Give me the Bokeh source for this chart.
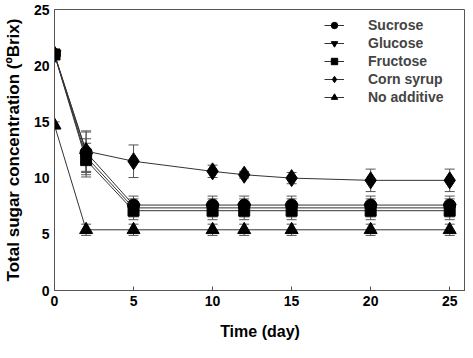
from bokeh.plotting import figure
from bokeh.models import ColumnDataSource, Whisker, Range1d, Legend, LegendItem, FixedTicker, TeeHead
from bokeh.embed import file_html
from bokeh.resources import INLINE

days = [0, 2, 5, 10, 12, 15, 20, 25]

sucrose = [21.0, 12.3, 7.6, 7.6, 7.6, 7.6, 7.6, 7.6]
sucrose_err = [0.3, 1.8, 0.8, 0.8, 0.8, 0.8, 0.8, 0.8]
glucose = [21.0, 11.9, 7.35, 7.35, 7.35, 7.35, 7.35, 7.35]
glucose_err = [0.3, 1.6, 0.8, 0.8, 0.8, 0.8, 0.8, 0.8]
fructose = [21.0, 11.6, 7.1, 7.1, 7.1, 7.1, 7.1, 7.1]
fructose_err = [0.3, 1.5, 0.8, 0.8, 0.8, 0.8, 0.8, 0.8]
corn_syrup = [21.0, 12.4, 11.5, 10.6, 10.3, 10.0, 9.8, 9.8]
corn_syrup_err = [0.3, 1.8, 1.45, 0.55, 0.3, 0.5, 1.0, 1.0]
no_additive = [14.7, 5.4, 5.4, 5.4, 5.4, 5.4, 5.4, 5.4]
no_additive_err = [0.3, 0.5, 0.5, 0.5, 0.5, 0.5, 0.5, 0.5]

series = [
    ("Sucrose", sucrose, sucrose_err, "circle", 12),
    ("Glucose", glucose, glucose_err, "inverted_triangle", 13),
    ("Fructose", fructose, fructose_err, "square", 11),
    ("Corn syrup", corn_syrup, corn_syrup_err, "diamond", 17),
    ("No additive", no_additive, no_additive_err, "triangle", 13),
]

x_ticks = [0, 5, 10, 15, 20, 25]
y_ticks = [0, 5, 10, 15, 20, 25]

p = figure(width=465, height=342, output_backend="svg", toolbar_location=None,
           x_range=Range1d(0, 26), y_range=Range1d(0, 25),
           min_border_left=45, min_border_right=0, min_border_top=9, min_border_bottom=40)

p.xgrid.visible = False
p.ygrid.visible = False
p.outline_line_color = "#555555"
p.outline_line_width = 1

for ax in (p.xaxis[0], p.yaxis[0]):
    ax.ticker = FixedTicker(ticks=x_ticks)
    ax.major_tick_in = 4
    ax.major_tick_out = 0
    ax.minor_tick_line_color = None
    ax.axis_line_color = "#555555"
    ax.major_tick_line_color = "#555555"
    ax.major_label_text_font = "Liberation Sans"
    ax.major_label_text_font_style = "bold"
    ax.major_label_text_font_size = "14px"
    ax.major_label_text_color = "black"
    ax.axis_label_text_font = "Liberation Sans"
    ax.axis_label_text_font_style = "bold"
    ax.axis_label_text_font_size = "16px"
    ax.axis_label_text_color = "black"
p.yaxis[0].ticker = FixedTicker(ticks=y_ticks)
p.yaxis[0].major_tick_in = 0
p.yaxis[0].axis_label_text_font_size = "17px"
p.xaxis.axis_label = "Time (day)"
p.yaxis.axis_label = "Total sugar concentration (\u00baBrix)"
p.xaxis.axis_label_standoff = 14
p.yaxis.axis_label_standoff = 8

items = []
for name, vals, errs, marker, size in series:
    src = ColumnDataSource(dict(x=days, y=vals,
                                lo=[v - e for v, e in zip(vals, errs)],
                                hi=[v + e for v, e in zip(vals, errs)]))
    w = Whisker(base="x", upper="hi", lower="lo", source=src,
                line_color="#555555", line_width=1,
                upper_head=TeeHead(size=10, line_color="#555555"),
                lower_head=TeeHead(size=10, line_color="#555555"))
    p.add_layout(w)
    ln = p.line("x", "y", source=src, line_color="#333333", line_width=1)
    sc = p.scatter("x", "y", source=src, marker=marker, size=size,
                   fill_color="black", line_color="black")
    items.append(LegendItem(label=name, renderers=[ln, sc]))

legend = Legend(items=items)
legend.border_line_color = None
legend.background_fill_alpha = 0
legend.label_text_font = "Liberation Sans"
legend.label_text_font_style = "bold"
legend.label_text_font_size = "14px"
legend.label_height = 16
legend.glyph_height = 16
legend.spacing = 2
legend.glyph_width = 20
legend.label_standoff = 24
legend.margin = 12
legend.padding = 4
legend.location = (270, 185)
p.add_layout(legend)

open("out.html", "w").write(file_html(p, INLINE))
